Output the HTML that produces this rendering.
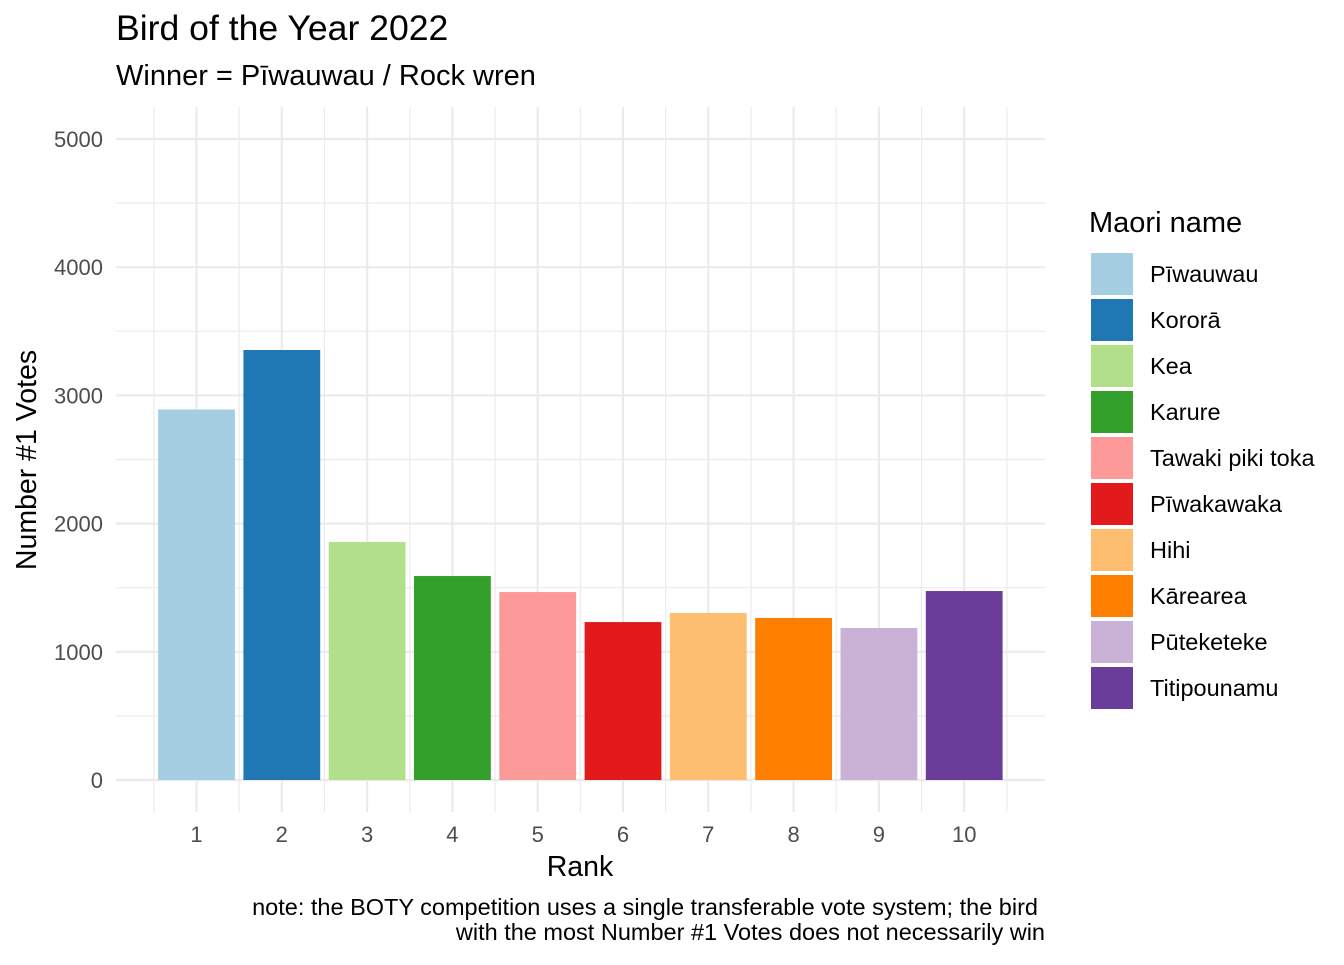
<!DOCTYPE html>
<html><head><meta charset="utf-8"><style>
body{margin:0;background:#fff;font-family:"Liberation Sans",sans-serif;}
svg text{font-family:"Liberation Sans",sans-serif;}
</style></head><body>
<svg id="chart" width="1344" height="960" xmlns="http://www.w3.org/2000/svg">
<text x="116" y="40" font-size="35.6" fill="#000">Bird of the Year 2022</text>
<text x="116" y="85" font-size="29" fill="#000">Winner = Pīwauwau / Rock wren</text>
<g id="grid"></g>
<g id="bars"></g>
<g id="axes"></g>
<text x="580" y="876" font-size="28.5" text-anchor="middle">Rank</text>
<text transform="translate(36,460) rotate(-90)" font-size="28.5" text-anchor="middle">Number #1 Votes</text>
<text x="1089" y="232" font-size="29">Maori name</text>
<g id="legend"></g>
<text x="1038" y="915" font-size="23.5" text-anchor="end">note: the BOTY competition uses a single transferable vote system; the bird</text>
<text x="1045" y="940" font-size="23.5" text-anchor="end">with the most Number #1 Votes does not necessarily win</text>
</svg>
<script>
const ranks=[1,2,3,4,5,6,7,8,9,10];
const votes=[2890,3354,1856,1591,1466,1232,1303,1264,1186,1474];
const names=["Pīwauwau","Kororā","Kea","Karure","Tawaki piki toka","Pīwakawaka","Hihi","Kārearea","Pūteketeke","Titipounamu"];
const colors=["#A6CEE3","#1F78B4","#B2DF8A","#33A02C","#FB9A99","#E31A1C","#FDBF6F","#FF7F00","#CAB2D6","#6A3D9A"];
const yTicks=[0,1000,2000,3000,4000,5000];
const NS="http://www.w3.org/2000/svg";
const y=v=>780-v*(641/5000);
const x=r=>196.5+(r-1)*85.3;
function mk(tag,attrs,parent){const e=document.createElementNS(NS,tag);for(const k in attrs)e.setAttribute(k,attrs[k]);parent.appendChild(e);return e;}
const grid=document.getElementById('grid'),bars=document.getElementById('bars'),axes=document.getElementById('axes'),legend=document.getElementById('legend');
for(let v=0;v<=5000;v+=500){const l=mk('line',{x1:116,x2:1045,y1:y(v),y2:y(v),stroke:'#ebebeb','stroke-width':v%1000?1.2:2.2},grid);

}
for(let i=0;i<=ranks.length;i++){const xx=x(0.5+i);const l=mk('line',{x1:xx,x2:xx,y1:107,y2:812,stroke:'#ebebeb','stroke-width':1.2},grid);

}
ranks.forEach(r=>{const l=mk('line',{x1:x(r),x2:x(r),y1:107,y2:812,stroke:'#ebebeb','stroke-width':2.2},grid);

});
ranks.forEach((r,i)=>{const b=mk('rect',{x:x(r)-38.4,y:y(votes[i]),width:76.8,height:y(0)-y(votes[i]),fill:colors[i]},bars);


const t=mk('text',{x:x(r),y:842,'font-size':22,fill:'#4d4d4d','text-anchor':'middle'},axes);t.textContent=r;

});
yTicks.forEach(v=>{const t=mk('text',{x:103,y:y(v)+8,'font-size':22,fill:'#4d4d4d','text-anchor':'end'},axes);t.textContent=v;

});
names.forEach((n,i)=>{const g=mk('g',{},legend);


mk('rect',{x:1091,y:253+i*46,width:42,height:42,fill:colors[i]},g);
const t=mk('text',{x:1150,y:282+i*46,'font-size':23.5},g);t.textContent=n;});
</script>
</body></html>
